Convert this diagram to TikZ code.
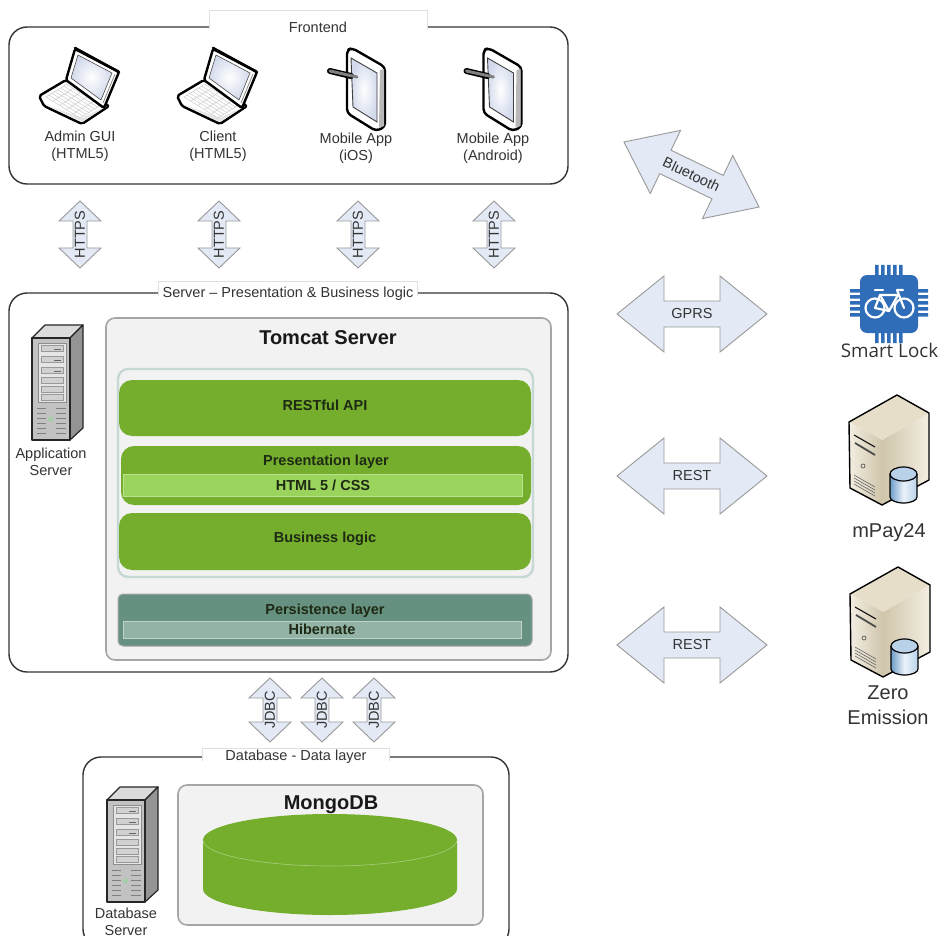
\documentclass[tikz,border=0pt]{standalone}
\usepackage{fontspec}
\setmainfont{Liberation Sans}
\newfontfamily\lockfont{Open Sans}
\usetikzlibrary{calc}
\definecolor{ink}{HTML}{333333}
\definecolor{dk}{HTML}{1E2A14}
\definecolor{leaf}{HTML}{74AE2C}
\definecolor{leaflt}{HTML}{9BD45D}
\definecolor{teal}{HTML}{669080}
\definecolor{teallt}{HTML}{92B3A6}
\definecolor{arrowf}{HTML}{E3E9F5}
\definecolor{panelf}{HTML}{F2F2F2}
\definecolor{stackline}{HTML}{C5D8D5}
\definecolor{chipblue}{HTML}{2F6DB8}
\definecolor{creamA}{HTML}{F3EEE2}
\definecolor{creamB}{HTML}{E6DEC9}
\definecolor{creamC}{HTML}{CFC5AB}
\definecolor{cylA}{HTML}{6E9CC8}
\definecolor{cylB}{HTML}{B9D2EA}
\definecolor{cylC}{HTML}{EAF2FA}
\definecolor{screenb}{HTML}{D3DAEC}
\tikzset{
  x=1pt,y=-1pt,
  txt/.style={font=\fontsize{14.5}{17}\selectfont,text=ink,align=center,inner sep=0pt},
  laytxt/.style={font=\fontsize{14.5}{17}\selectfont\bfseries,text=dk,inner sep=0pt},
  headtxt/.style={font=\fontsize{20}{24}\selectfont\bfseries,text=black!90,inner sep=0pt},
  outerbox/.style={draw=ink,line width=1.4pt,rounded corners=18pt,fill=white,inner sep=0pt},
  innerbox/.style={draw=black!35,line width=1.6pt,rounded corners=9pt,fill=panelf,inner sep=0pt},
  stackbox/.style={draw=stackline,line width=2.4pt,rounded corners=10pt,fill=panelf,inner sep=0pt},
  greenbox/.style={fill=leaf,rounded corners=13pt,inner sep=0pt},
  greenbar/.style={fill=leaflt,draw=leaflt!70!white,line width=.6pt,inner sep=0pt},
  tealbox/.style={fill=teal,draw=black!35,line width=1pt,rounded corners=5pt,inner sep=0pt},
  tealbar/.style={fill=teallt,draw=teallt!60!white,line width=.8pt,inner sep=0pt},
  tabbox/.style={fill=white,inner sep=0pt},
  tabedge/.style={draw=black!12,line width=.8pt},
  blockarrow/.style={fill=arrowf,draw=black!40,line width=.9pt,line join=miter},
  heavy/.style={draw=black,line width=2.4pt,line join=round},
}
% name cx cy angle halflen halfhead headlen halfshaft text
\newcommand\blockarr[9]{%
  \begin{scope}[shift={(#2,#3)},rotate=#4]
    \path[blockarrow] (-#5,0) -- ({-#5+#7},-#6) -- ({-#5+#7},-#8) -- ({#5-#7},-#8) -- ({#5-#7},-#6) -- (#5,0)
      -- ({#5-#7},#6) -- ({#5-#7},#8) -- ({-#5+#7},#8) -- ({-#5+#7},#6) -- cycle;
    \node[txt,rotate=#4] (#1) at (0,0) {#9};
  \end{scope}}
\newcommand\laptopicon[1]{%
  \begin{scope}[shift={(#1,0)}]
    % base
    \path[fill=white,heavy,rounded corners=2pt] (39,96) -- (66,80) -- (109,106) -- (82,124) -- (44,106) -- cycle;
    \path[fill=black!10] (44,104) -- (82,122) -- (107,106) -- (82,118) -- cycle;
    \foreach \t in {0,.14,...,1.01}{
      \draw[black!18,line width=.6pt] ($(46,97)!\t!(67,84)$) -- ($(80,118)!\t!(101,105)$);}
    \foreach \t in {0,.2,...,1.01}{
      \draw[black!18,line width=.6pt] ($(46,97)!\t!(80,118)$) -- ($(67,84)!\t!(101,105)$);}
    % screen
    \path[fill=white,heavy,rounded corners=1.5pt] (66,80) -- (75,49) -- (119,72) -- (104,108) -- cycle;
    \shade[inner color=white,outer color=screenb] (71,78) -- (78,55) -- (112,73) -- (101,100) -- cycle;
    \draw[black!70,line width=.6pt] (71,78) -- (78,55) -- (112,73) -- (101,100) -- cycle;
    \draw[black!45,line width=.8pt] (115,74) -- (103,103);
    \draw[black,line width=2.6pt,line cap=round] (75,48) -- (119,72);
  \end{scope}}
\newcommand\tableticon[1]{%
  \begin{scope}[shift={(#1,0)}]
    \path[fill=white,heavy,rounded corners=4pt] (347,50) -- (352,48) -- (385,67) -- (385,127) -- (376,131) -- (347,113) -- cycle;
    \path[fill=black!28] (380,70) -- (384,69) -- (384,126) -- (379,128) -- cycle;
    \shade[inner color=white,outer color=screenb] (351,58) -- (377,73) -- (377,122) -- (353,107) -- cycle;
    \draw[black!75,line width=.9pt] (351,58) -- (377,73) -- (377,122) -- (353,107) -- cycle;
    \draw[black,line width=6pt,line cap=round] (330,71) -- (351,76);
    \draw[black!50,line width=3pt,line cap=round] (330,71) -- (357,77);
  \end{scope}}
\newcommand\towericon[2]{%
  \begin{scope}[shift={(#1,#2)}]
    \path[fill=black!14,draw=black!85,line width=1.2pt,line join=round] (32,338) -- (45,325) -- (83,325) -- (70,338) -- cycle;
    \path[fill=black!42,draw=black!85,line width=1.2pt,line join=round] (70,338) -- (83,325) -- (83,428) -- (70,440) -- cycle;
    \path[fill=black!24,draw=black!85,line width=1.2pt,line join=round] (32,338) rectangle (70,440);
    \path[fill=black!10,draw=black!45,line width=.5pt] (38,343) rectangle (66,402);
    \foreach \y in {345,356,367,377,386,394}{
      \path[fill=black!18,draw=black!40,line width=.4pt] (41,\y) rectangle (63,{\y+6});}
    \foreach \y in {349,360,371}{\draw[black!60,line width=.9pt] (54,\y) -- (61,\y);}
    \foreach \y in {408,413,...,434}{
      \draw[black!50,line width=1pt] (37,\y) -- (46,\y) (56,\y) -- (66,\y);}
    \fill[green!45!black!35] (50.5,419) circle (2.5pt);
  \end{scope}}
\newcommand\dbserver[2]{%
  \begin{scope}[shift={(#1,#2)}]
    \shade[left color=creamC,right color=creamA] (882,440) -- (929,413) -- (929,480) -- (882,505) -- cycle;
    \path[fill=creamB] (849,422) -- (897,395) -- (929,413) -- (882,440) -- cycle;
    \shade[left color=creamA,right color=creamC] (849,422) -- (882,440) -- (882,505) -- (850,488) -- cycle;
    \draw[black,line width=1.4pt,line join=round] (849,422) -- (897,395) -- (929,413) -- (929,480) -- (882,505) -- (850,488) -- cycle;
    \draw[black,line width=1pt] (854,435) -- (875,447);
    \draw[black!70,line width=1.8pt] (855,443) -- (875,455);
    \draw[black!65,line width=.7pt] (863,466) circle (2pt);
    \foreach \d in {0,3,6,9}{\draw[black!60,line width=.6pt] (854,{475+\d}) -- (875,{487+\d});}
    \shade[left color=cylA,right color=cylB,middle color=cylC] (890,474) rectangle (917,497);
    \fill[left color=cylA,right color=cylB,middle color=cylC] (890,497) arc[start angle=180,end angle=360,x radius=13.5pt,y radius=6pt] -- cycle;
    \draw[black,line width=1.2pt] (890,474) -- (890,497) arc[start angle=180,end angle=360,x radius=13.5pt,y radius=6pt] -- (917,474);
    \path[fill=cylB,draw=black,line width=1.2pt] (903.5,474) ellipse [x radius=13.5pt,y radius=7pt];
  \end{scope}}
\begin{document}
\begin{tikzpicture}
\useasboundingbox (0,0) rectangle (940,936);
\clip (0,0) rectangle (940,936);
\fill[white] (0,0) rectangle (940,936);

% ---------- Frontend
\node[outerbox,minimum width=559pt,minimum height=157pt] (front) at (288.5,105.5) {};
\node[tabbox,minimum width=217pt,minimum height=18pt] (fronttab) at (318.5,20) {};
\draw[tabedge] (fronttab.south west) |- (fronttab.north east) -- (fronttab.south east);
\node[txt] (fronttitle) at (318,27) {Frontend};
\laptopicon{0}
\laptopicon{138}
\tableticon{0}
\tableticon{136.5}
\node[txt] (admin) at (80,146) {Admin GUI\\(HTML5)};
\node[txt] (client) at (218,146) {Client\\(HTML5)};
\node[txt] (ios) at (356,148.5) {Mobile App\\(iOS)};
\node[txt] (android) at (493,148.5) {Mobile App\\(Android)};

% ---------- HTTPS
\blockarr{h1}{80}{234.5}{90}{33.5}{21}{20}{7}{HTTPS}
\blockarr{h2}{219}{234.5}{90}{33.5}{21}{20}{7}{HTTPS}
\blockarr{h3}{358}{234.5}{90}{33.5}{21}{20}{7}{HTTPS}
\blockarr{h4}{494}{234.5}{90}{33.5}{21}{20}{7}{HTTPS}

% ---------- Server
\node[outerbox,minimum width=559pt,minimum height=379pt] (server) at (288.5,482.5) {};
\node[tabbox,minimum width=258pt,minimum height=14pt] (servertab) at (288,289) {};
\draw[tabedge] (servertab.south west) |- (servertab.north east) -- (servertab.south east);
\node[txt] (servertitle) at (288,293.5) {Server – Presentation \& Business logic};
\towericon{0}{0}
\node[txt] (appserver) at (51,461.5) {Application\\Server};
\node[innerbox,minimum width=445pt,minimum height=342pt] (tomcat) at (328.5,489) {};
\node[headtxt] (tomcattitle) at (328,338) {Tomcat Server};
\node[stackbox,minimum width=415pt,minimum height=208pt] (stack) at (325.5,473) {};
\node[greenbox,minimum width=412pt,minimum height=56pt] (rest) at (325,408) {};
\node[laytxt] (resttxt) at (325,405) {RESTful API};
\node[greenbox,minimum width=410pt,minimum height=59pt] (pres) at (326,475.5) {};
\node[laytxt] (prestxt) at (326,462) {Presentation layer};
\node[greenbar,minimum width=399pt,minimum height=22pt] (html) at (322.5,485.5) {};
\node[laytxt] (htmltxt) at (323,485.5) {HTML 5 / CSS};
\node[greenbox,minimum width=412pt,minimum height=57pt] (biz) at (325,541.5) {};
\node[laytxt] (biztxt) at (325,539) {Business logic};
\node[tealbox,minimum width=414pt,minimum height=52pt] (pers) at (325,620) {};
\node[laytxt] (perstxt) at (325,610.5) {Persistence layer};
\node[tealbar,minimum width=398pt,minimum height=17pt] (hib) at (322,629.5) {};
\node[laytxt] (hibtxt) at (322,629.5) {Hibernate};

% ---------- JDBC
\blockarr{j1}{270}{710}{90}{32}{21}{20}{7}{JDBC}
\blockarr{j2}{322}{710}{90}{32}{21}{20}{7}{JDBC}
\blockarr{j3}{374}{710}{90}{32}{21}{20}{7}{JDBC}

% ---------- Database
\node[outerbox,minimum width=426pt,minimum height=190pt] (db) at (296,852) {};
\node[tabbox,minimum width=186pt,minimum height=12pt] (dbtab) at (296,754.5) {};
\draw[tabedge] (dbtab.south west) |- (dbtab.north east) -- (dbtab.south east);
\node[txt] (dbtitle) at (296,756.5) {Database - Data layer};
\towericon{75}{462}
\node[txt] (dbserver) at (126,921.5) {Database\\Server};
\node[innerbox,minimum width=305pt,minimum height=140pt] (mongo) at (330.5,855) {};
\node[headtxt] (mongotitle) at (331,805) {MongoDB};
\path[fill=leaf] (203,840) -- (203,889) arc[start angle=180,end angle=360,x radius=127pt,y radius=26pt] -- (457,840) arc[start angle=0,end angle=180,x radius=127pt,y radius=26pt] -- cycle;
\draw[white!35!leaf,line width=.7pt] (203,840) arc[start angle=180,end angle=360,x radius=127pt,y radius=26pt];

% ---------- right arrows
\blockarr{bt}{691.5}{174.5}{-25.7}{75}{35}{46}{13}{Bluetooth}
\blockarr{gprs}{692}{314}{0}{75}{38}{47}{13}{GPRS}
\blockarr{rest1}{692}{476}{0}{75}{38}{47}{13}{REST}
\blockarr{rest2}{692}{645}{0}{75}{38}{47}{13}{REST}

% ---------- Smart lock
\foreach \x in {875,881,887,893,899}{\fill[chipblue] (\x,265) rectangle ({\x+3.5},276) (\x,332) rectangle ({\x+3.5},343);}
\foreach \y in {289,295,301,307,313}{\fill[chipblue] (850,\y) rectangle (861,{\y+3.5}) (917,\y) rectangle (928,{\y+3.5});}
\node[fill=chipblue,rounded corners=7pt,minimum width=58pt,minimum height=58pt,inner sep=0pt] (chip) at (889,304) {};
\begin{scope}[white,line width=2.2pt,line cap=round,line join=round]
  \draw (875,308) circle (9.5pt) (904,308) circle (9.5pt);
  \draw (875,308) -- (880,295) -- (898,295) -- (889,311) -- cycle;
  \draw (880,295) -- (889,311);
  \draw (904,308) -- (897,290) -- (903,290);
  \draw (875,290) -- (883,290);
\end{scope}
\node[font=\fontsize{18.8}{22}\selectfont\lockfont,text=ink,inner sep=0pt] (lock) at (889.5,350) {Smart Lock};

\dbserver{0}{0}
\node[font=\fontsize{20}{24}\selectfont,text=ink,inner sep=0pt] (mpay) at (889,533) {mPay24};
\dbserver{1}{172}
\node[font=\fontsize{20}{25}\selectfont,text=ink,align=center,inner sep=0pt] (zero) at (888,705) {Zero\\Emission};
\end{tikzpicture}
\end{document}
